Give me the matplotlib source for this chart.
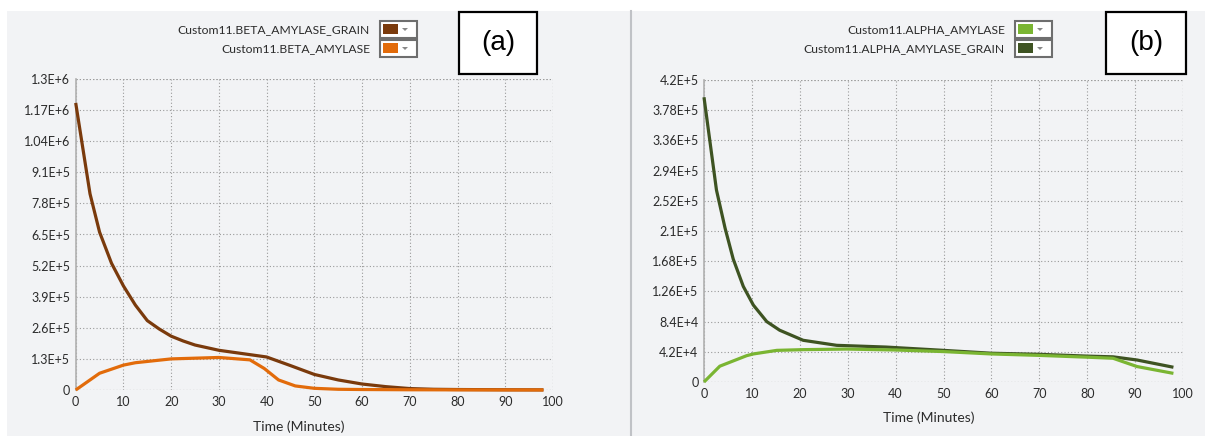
import numpy as np
import matplotlib.pyplot as plt
from matplotlib.patches import Rectangle, Polygon

# panel (a): beta amylase
t_beta_grain = [0, 3, 5, 7.5, 10, 12.5, 15, 17.5, 20, 22.5, 25, 30, 35, 40, 45, 50, 55, 60, 65, 70, 75, 80, 90, 98]
beta_grain = [1.2e6, 8.2e5, 6.6e5, 5.3e5, 4.35e5, 3.55e5, 2.9e5, 2.55e5, 2.25e5, 2.05e5, 1.88e5, 1.66e5, 1.52e5,
              1.38e5, 1.02e5, 6.5e4, 4.2e4, 2.5e4, 1.4e4, 6e3, 3e3, 2e3, 1e3, 500]
t_beta = [0, 5, 10, 12.5, 20, 30, 36.5, 39.5, 42.5, 46, 50, 55, 60, 70, 80, 90, 98]
beta = [0, 7e4, 1.04e5, 1.14e5, 1.3e5, 1.36e5, 1.26e5, 9e4, 4.2e4, 1.7e4, 7e3, 3e3, 2e3, 1e3, 500, 300, 200]

# panel (b): alpha amylase
t_alpha_grain = [0, 2.6, 4.4, 6.1, 8.2, 10.3, 13.1, 15.8, 20.7, 27.7, 38, 50, 60, 70, 80, 85.4, 90.4, 98]
alpha_grain = [3.96e5, 2.67e5, 2.14e5, 1.71e5, 1.33e5, 1.07e5, 8.4e4, 7.2e4, 5.8e4, 5.1e4, 4.86e4, 4.4e4,
               4.0e4, 3.85e4, 3.6e4, 3.5e4, 3.06e4, 2.05e4]
t_alpha = [0, 3.3, 8.9, 10.3, 15.2, 20.7, 29.8, 40, 50, 60, 70, 80, 85.4, 90.4, 98]
alpha = [0, 2.2e4, 3.66e4, 3.9e4, 4.4e4, 4.5e4, 4.58e4, 4.45e4, 4.23e4, 3.9e4, 3.7e4, 3.45e4, 3.3e4, 2.15e4, 1.2e4]

yticks_a = [0, 1.3e5, 2.6e5, 3.9e5, 5.2e5, 6.5e5, 7.8e5, 9.1e5, 1.04e6, 1.17e6, 1.3e6]
ylabels_a = ["0", "1.3E+5", "2.6E+5", "3.9E+5", "5.2E+5", "6.5E+5", "7.8E+5", "9.1E+5", "1.04E+6", "1.17E+6", "1.3E+6"]
yticks_b = [0, 4.2e4, 8.4e4, 1.26e5, 1.68e5, 2.1e5, 2.52e5, 2.94e5, 3.36e5, 3.78e5, 4.2e5]
ylabels_b = ["0", "4.2E+4", "8.4E+4", "1.26E+5", "1.68E+5", "2.1E+5", "2.52E+5", "2.94E+5", "3.36E+5", "3.78E+5", "4.2E+5"]
xticks = list(range(0, 101, 10))

plt.rcParams['font.family'] = ['Lato', 'DejaVu Sans']
W, H = 1205, 436
BG = "#f2f3f5"
TXT = "#2b2b2b"

fig = plt.figure(figsize=(W / 100, H / 100), dpi=100, facecolor=BG)


def box(x0, y0, x1, y1):
    # pixel box (top-left origin) -> figure fraction rect
    return [x0 / W, 1 - y1 / H, (x1 - x0) / W, (y1 - y0) / H]


def fx(x):
    return x / W


def fy(y):
    return 1 - y / H


# white margins at top and left, panel separator
fig.add_artist(Rectangle((0, fy(11)), 1, 11 / H, transform=fig.transFigure,
                         facecolor="white", edgecolor="none", zorder=-5))
fig.add_artist(Rectangle((0, 0), fx(7), 1, transform=fig.transFigure,
                         facecolor="white", edgecolor="none", zorder=-5))
fig.add_artist(plt.Line2D([fx(631), fx(631)], [0, fy(11)], transform=fig.transFigure,
                          color="#c0c2c6", lw=1.5, zorder=-4))


def draw_axes(rect, series, yticks, ylabels, ymax, xlab_x, xlab_dy):
    ax = fig.add_axes(rect)
    ax.set_facecolor(BG)
    for t, v, c in series:
        ax.plot(t, v, color=c, lw=2.3, solid_capstyle="butt", zorder=3, clip_on=False)
    ax.set_xlim(0, 100)
    ax.set_ylim(0, ymax)
    ax.set_xticks(xticks)
    ax.set_yticks(yticks)
    ax.set_yticklabels(ylabels)
    ax.grid(True, color="#9a9a9a", linestyle=(0, (1, 2)), lw=0.8)
    ax.tick_params(length=0, labelsize=9, colors=TXT, pad=4)
    for s in ["top", "right", "bottom"]:
        ax.spines[s].set_visible(False)
    ax.spines["left"].set_color("#b0b0b0")
    ax.spines["left"].set_linewidth(1.2)
    ax.axhline(ymax, color="#9a9a9a", linestyle=(0, (1, 2)), lw=0.8)
    ax.axvline(100, color="#9a9a9a", linestyle=(0, (1, 2)), lw=0.8)
    ax.axhline(0, color="#9a9a9a", linestyle=(0, (1, 2)), lw=0.8)
    ax.set_xlabel("Time (Minutes)", fontsize=10, color=TXT, va="center")
    x0, y0, w, h = rect
    ax.xaxis.set_label_coords((fx(xlab_x) - x0) / w, -(xlab_dy / H) / h)
    return ax


c_bgrain, c_beta = "#7a3a0c", "#e26b0a"
c_agrain, c_alpha = "#3e5322", "#7ab532"

draw_axes(box(75.7, 79, 553, 390), [(t_beta_grain, beta_grain, c_bgrain), (t_beta, beta, c_beta)],
          yticks_a, ylabels_a, 1.3e6, 299, 37)
draw_axes(box(704, 80, 1183, 382), [(t_alpha_grain, alpha_grain, c_agrain), (t_alpha, alpha, c_alpha)],
          yticks_b, ylabels_b, 4.2e5, 928.5, 36)


def legend_entry(text, color, xr, yc):
    fig.text(fx(xr), fy(yc), text, ha="right", va="center", fontsize=8.7, color=TXT)
    x0 = xr + 10
    fig.add_artist(Rectangle((fx(x0), fy(yc + 8.5)), fx(37), 17 / H, transform=fig.transFigure,
                             facecolor="white", edgecolor="#6e6e6e", lw=1.5))
    fig.add_artist(Rectangle((fx(x0 + 3), fy(yc + 5)), fx(15), 10.5 / H, transform=fig.transFigure,
                             facecolor=color, edgecolor="none"))
    tri = [(fx(x0 + 22), fy(yc - 1.5)), (fx(x0 + 28), fy(yc - 1.5)), (fx(x0 + 25), fy(yc + 1.5))]
    fig.add_artist(Polygon(tri, closed=True, transform=fig.transFigure, facecolor="#888888", edgecolor="none"))


legend_entry("Custom11.BETA_AMYLASE_GRAIN", c_bgrain, 370, 29.5)
legend_entry("Custom11.BETA_AMYLASE", c_beta, 370, 48.5)
legend_entry("Custom11.ALPHA_AMYLASE", c_alpha, 1005, 29.5)
legend_entry("Custom11.ALPHA_AMYLASE_GRAIN", c_agrain, 1005, 48.5)


def label_box(text, x0, y0, x1, y1):
    fig.add_artist(Rectangle((fx(x0), fy(y1)), fx(x1 - x0), (y1 - y0) / H, transform=fig.transFigure,
                             facecolor="white", edgecolor="black", lw=1.6, zorder=5))
    fig.text(fx((x0 + x1) / 2), fy((y0 + y1) / 2), text, ha="center", va="center", fontsize=20,
             family=["Liberation Sans", "DejaVu Sans"], zorder=6)


label_box("(a)", 459, 12, 537, 74)
label_box("(b)", 1106, 12, 1186, 74)

fig.savefig("out.png", dpi=100, facecolor=BG)
